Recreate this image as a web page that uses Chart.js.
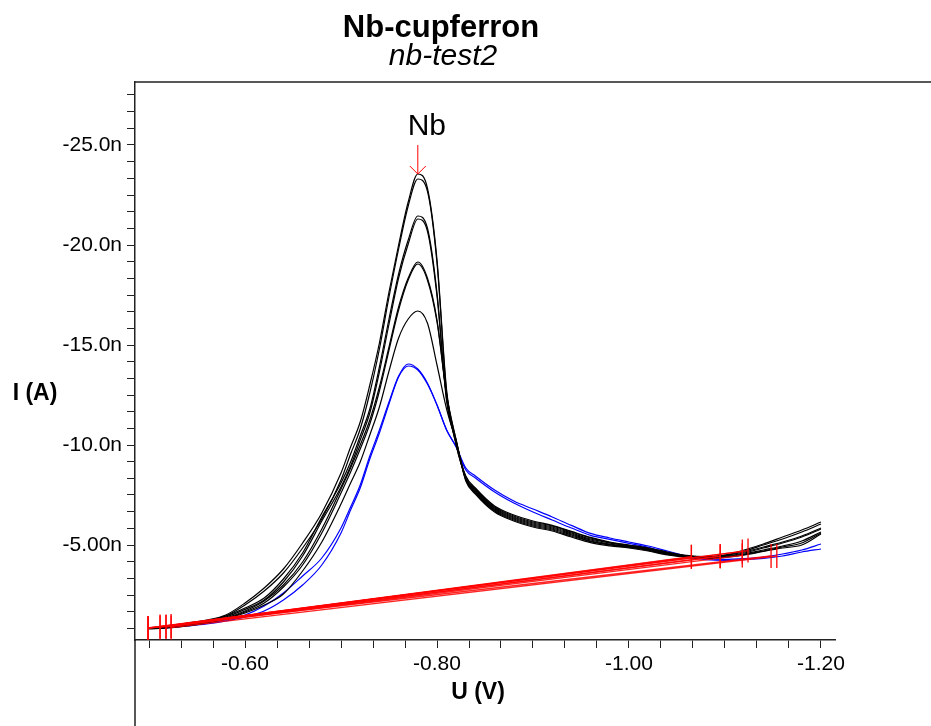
<!DOCTYPE html>
<html>
<head>
<meta charset="utf-8">
<script src="https://cdn.jsdelivr.net/npm/chart.js@4.4.1/dist/chart.umd.min.js"></script>
<style>
  html, body { margin: 0; padding: 0; background: #fff; }
  #wrap { width: 931px; height: 726px; position: relative; }
</style>
</head>
<body>
<div id="wrap"><canvas id="myChart"></canvas></div>
<script>
// potentiel (V)
const potentials = [-0.50, -0.52, -0.54, -0.56, -0.58, -0.60, -0.62, -0.64, -0.66, -0.68, -0.70,
  -0.71, -0.72, -0.73, -0.74, -0.75, -0.76, -0.77, -0.78, -0.79, -0.80, -0.81, -0.82, -0.83, -0.84,
  -0.86, -0.88, -0.90, -0.92, -0.94, -0.96, -0.98, -1.00, -1.02, -1.04, -1.06, -1.08, -1.10,
  -1.12, -1.14, -1.16, -1.18, -1.20];

// courant (nA) de chaque balayage
const curveA1 = [-0.85, -0.95, -1.10, -1.25, -1.50, -2.10, -2.85, -3.80, -5.10, -6.60, -8.60,
  -9.90, -11.15, -13.0, -15.1, -17.65, -20.0, -22.15, -23.55, -22.85, -19.25, -12.75, -10.0, -8.45, -7.85,
  -6.95, -6.5, -6.2, -5.98, -5.68, -5.38, -5.15, -5.0, -4.85, -4.65, -4.48, -4.42, -4.48,
  -4.75, -5.05, -5.4, -5.75, -6.15];
const curveA2 = [-0.85, -0.93, -1.05, -1.20, -1.45, -2.00, -2.70, -3.60, -4.85, -6.30, -8.25,
  -9.55, -10.8, -12.6, -14.8, -17.4, -19.8, -21.95, -23.3, -22.7, -19.1, -12.6, -10.0, -8.4, -7.8,
  -6.9, -6.45, -6.15, -5.95, -5.65, -5.35, -5.12, -4.98, -4.82, -4.62, -4.46, -4.4, -4.5,
  -4.7, -5.0, -5.3, -5.65, -6.05];
const curveB1 = [-0.85, -0.90, -1.05, -1.20, -1.45, -1.85, -2.35, -3.30, -4.60, -6.40, -8.10,
  -9.15, -10.45, -11.8, -13.9, -16.3, -18.55, -20.25, -21.45, -20.85, -17.6, -12.3, -10.2, -8.35, -7.75,
  -6.85, -6.4, -6.1, -5.9, -5.6, -5.3, -5.1, -4.95, -4.8, -4.6, -4.45, -4.4, -4.48,
  -4.65, -4.9, -5.15, -5.45, -5.85];
const curveB2 = [-0.85, -0.90, -1.02, -1.17, -1.40, -1.78, -2.25, -3.15, -4.45, -6.2, -7.9,
  -8.95, -10.25, -11.6, -13.65, -16.05, -18.35, -20.05, -21.3, -20.7, -17.45, -12.2, -10.15, -8.3, -7.7,
  -6.8, -6.35, -6.05, -5.85, -5.55, -5.25, -5.05, -4.92, -4.78, -4.58, -4.43, -4.38, -4.45,
  -4.6, -4.85, -5.1, -5.4, -5.8];
const curveC1 = [-0.83, -0.90, -1.0, -1.15, -1.35, -1.7, -2.2, -3.0, -4.15, -5.8, -7.8,
  -8.85, -10.0, -11.25, -12.9, -14.9, -16.9, -18.35, -19.15, -18.35, -16.25, -12.55, -10.25, -8.3, -7.65,
  -6.75, -6.3, -6.0, -5.8, -5.5, -5.2, -5.02, -4.9, -4.75, -4.55, -4.42, -4.37, -4.42,
  -4.55, -4.75, -4.95, -5.2, -5.65];
const curveC2 = [-0.83, -0.88, -0.98, -1.12, -1.32, -1.65, -2.1, -2.9, -4.0, -5.6, -7.6,
  -8.65, -9.8, -11.05, -12.7, -14.75, -16.75, -18.25, -19.05, -18.25, -16.15, -12.5, -10.2, -8.25, -7.6,
  -6.7, -6.25, -5.95, -5.75, -5.45, -5.17, -5.0, -4.88, -4.73, -4.53, -4.4, -4.35, -4.4,
  -4.52, -4.7, -4.9, -5.1, -5.6];
const curveD = [-0.8, -0.85, -0.95, -1.1, -1.3, -1.6, -2.0, -2.55, -3.7, -5.15, -7.05,
  -8.1, -9.15, -10.5, -11.9, -13.7, -15.35, -16.3, -16.7, -16.1, -14.0, -11.8, -10.15, -8.2, -7.55,
  -6.65, -6.2, -5.9, -5.7, -5.4, -5.12, -4.96, -4.85, -4.7, -4.5, -4.38, -4.33, -4.38,
  -4.5, -4.68, -4.85, -5.0, -5.55];
const curveE1 = [-0.85, -0.9, -1.0, -1.1, -1.25, -1.5, -1.95, -2.6, -3.45, -4.35, -5.85,
  -6.9, -8.0, -9.45, -10.75, -12.15, -13.45, -14.05, -13.8, -13.1, -12.0, -10.75, -9.9, -8.85, -8.45,
  -7.75, -7.2, -6.8, -6.4, -5.98, -5.58, -5.35, -5.15, -4.95, -4.7, -4.45, -4.32, -4.28,
  -4.32, -4.4, -4.55, -4.75, -5.05];
const curveE2 = [-0.83, -0.87, -0.95, -1.05, -1.2, -1.4, -1.7, -2.25, -3.0, -4.0, -5.6,
  -6.75, -7.85, -9.3, -10.6, -12.05, -13.4, -13.95, -13.75, -13.05, -12.0, -10.75, -9.9, -8.75, -8.35,
  -7.65, -7.1, -6.65, -6.25, -5.85, -5.48, -5.28, -5.08, -4.88, -4.63, -4.4, -4.27, -4.23,
  -4.27, -4.33, -4.45, -4.65, -4.8];

// lignes de base (debut / fin)
const baseStartV = [-0.499, -0.5115, -0.5177, -0.523, -0.499, -0.5115, -0.5177, -0.499, -0.523];
const baseStartI = [-0.85, -0.92, -0.92, -0.95, -0.83, -0.88, -0.9, -0.85, -0.87];
const baseEndV = [-1.118, -1.124, -1.095, -1.095, -1.065, -1.065, -1.118, -1.148, -1.154];
const baseEndI = [-4.68, -4.72, -4.45, -4.43, -4.42, -4.4, -4.48, -4.45, -4.45];

// textes et graduations
const chartTitle = "Nb-cupferron";
const chartSubtitle = "nb-test2";
const xAxisTitle = "U (V)";
const yAxisTitle = "I (A)";
const peakLabel = "Nb";
const xTickValues = [-0.6, -0.8, -1.0, -1.2];
const xTickLabels = ["-0.60", "-0.80", "-1.00", "-1.20"];
const yTickValues = [-5, -10, -15, -20, -25];
const yTickLabels = ["-5.00n", "-10.0n", "-15.0n", "-20.0n", "-25.0n"];

const fontFamily = '"Liberation Sans", Arial, Helvetica, sans-serif';

function curve(values, color) {
  return {
    data: potentials.map((v, i) => ({ x: v, y: values[i] })),
    borderColor: color,
    borderWidth: 1.2,
    pointRadius: 0,
    cubicInterpolationMode: "monotone",
    fill: false,
  };
}

const datasets = [];
for (let i = 0; i < baseStartV.length; i++) {
  datasets.push({
    data: [
      { x: baseStartV[i], y: baseStartI[i] },
      { x: baseEndV[i], y: baseEndI[i] },
    ],
    borderColor: "rgba(255,0,0,0.85)",
    borderWidth: 1.4,
    pointStyle: "line",
    rotation: 90,
    pointRadius: 12,
    pointBorderColor: "#ff0000",
    pointBorderWidth: 1.3,
    tension: 0,
  });
}
[curveA1, curveA2, curveB1, curveB2, curveC1, curveC2, curveD].forEach((c) =>
  datasets.push(curve(c, "#000000"))
);
datasets.push(curve(curveE1, "#0000ff"));
datasets.push(curve(curveE2, "#0000ff"));

function labelFor(value, vals, labels) {
  for (let i = 0; i < vals.length; i++) {
    if (Math.abs(value - vals[i]) < 1e-6) return labels[i];
  }
  return "";
}

// cadre, titres, annotation du pic
const extras = {
  id: "extras",
  afterDraw(chart) {
    const ctx = chart.ctx;
    const a = chart.chartArea;
    ctx.save();
    ctx.strokeStyle = "#222";
    ctx.lineWidth = 1.5;
    ctx.beginPath();
    ctx.moveTo(a.left, a.top);
    ctx.lineTo(chart.width, a.top);
    ctx.moveTo(a.left, a.bottom);
    ctx.lineTo(a.left, chart.height);
    ctx.stroke();

    ctx.fillStyle = "#000";
    ctx.textAlign = "center";
    ctx.textBaseline = "alphabetic";
    ctx.font = "bold 31px " + fontFamily;
    ctx.fillText(chartTitle, 441, 37);
    ctx.font = "italic 30px " + fontFamily;
    ctx.fillText(chartSubtitle, 443, 65);
    ctx.font = "bold 23px " + fontFamily;
    ctx.fillText(yAxisTitle, 35, 400);
    ctx.fillText(xAxisTitle, 478, 699);

    // fleche rouge au sommet du pic
    let idx = 0;
    curveA1.forEach((v, i) => { if (v < curveA1[idx]) idx = i; });
    const px = chart.scales.x.getPixelForValue(potentials[idx]);
    const py = chart.scales.y.getPixelForValue(curveA1[idx]);
    ctx.strokeStyle = "#ff0000";
    ctx.lineWidth = 1;
    ctx.beginPath();
    ctx.moveTo(px, py - 29);
    ctx.lineTo(px, py);
    ctx.moveTo(px - 8, py - 8);
    ctx.lineTo(px, py);
    ctx.lineTo(px + 8, py - 8);
    ctx.stroke();
    ctx.font = "30px " + fontFamily;
    ctx.fillText(peakLabel, px + 9, py - 39);
    ctx.restore();
  },
};

const config = {
  type: "line",
  data: { datasets: datasets },
  options: {
    animation: false,
    responsive: true,
    maintainAspectRatio: false,
    events: [],
    layout: { padding: { top: 82, right: 96, left: 0, bottom: 0 } },
    plugins: { legend: false, tooltip: { enabled: false }, title: { display: false } },
    scales: {
      x: {
        type: "linear",
        reverse: true,
        min: -1.2146,
        max: -0.4854,
        afterBuildTicks: (s) => {
          const t = [];
          for (let k = 15; k <= 36; k++) t.push({ value: -k / 30 });
          s.ticks = t;
        },
        afterFit: (s) => { s.height = 86; },
        ticks: {
          autoSkip: false,
          maxRotation: 0,
          padding: 4,
          color: "#000",
          font: { family: fontFamily, size: 21 },
          callback: (v) => labelFor(v, xTickValues, xTickLabels),
        },
        grid: { drawOnChartArea: false, tickLength: 8, color: "#222", lineWidth: 1 },
        border: { color: "#222", width: 1.5 },
      },
      y: {
        type: "linear",
        reverse: true,
        min: -28.15,
        max: -0.25,
        afterBuildTicks: (s) => {
          const t = [];
          for (let k = 1; k <= 33; k++) t.push({ value: -k * 5 / 6 });
          s.ticks = t;
        },
        afterFit: (s) => { s.width = 135; },
        ticks: {
          autoSkip: false,
          padding: 5,
          color: "#000",
          font: { family: fontFamily, size: 21 },
          callback: (v) => labelFor(v, yTickValues, yTickLabels),
        },
        grid: { drawOnChartArea: false, tickLength: 8, color: "#222", lineWidth: 1 },
        border: { color: "#222", width: 1.5 },
      },
    },
  },
  plugins: [extras],
};

let context = document.getElementById("myChart").getContext("2d");
let chart = new Chart(context, config);
</script>
</body>
</html>
